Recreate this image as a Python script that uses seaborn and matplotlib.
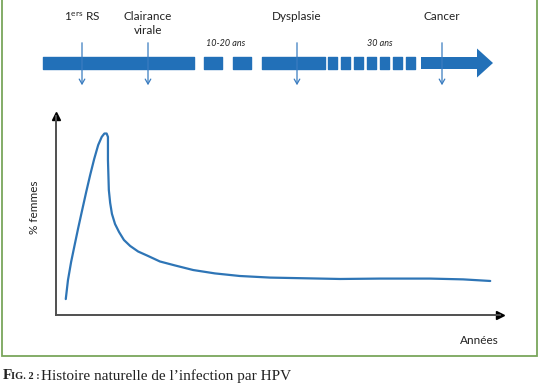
import matplotlib
matplotlib.use("Agg")
import matplotlib.pyplot as plt
import seaborn as sns
from matplotlib.patches import Rectangle

# ---------------------------------------------
# DATA
# ---------------------------------------------
# curve: years (0-100 scale) vs % femmes (0-100 scale)
years = [2.2, 2.7, 3.4, 4.2, 5.0, 5.9, 6.8, 7.7, 8.6, 9.5, 10.3, 10.9, 11.4, 11.7,
         11.7, 11.7, 11.8, 11.9, 12.2, 12.6, 13.3, 14.2, 15.3, 16.7, 18.5, 20.7,
         23.4, 26.8, 30.9, 35.8, 41.4, 48.2, 55.0, 64.0, 73.0, 84.2, 91.7, 97.8]
pct_femmes = [8.0, 17.6, 26.6, 35.2, 43.7, 52.8, 61.8, 70.4, 78.4, 85.4, 89.5, 91.2, 91.2, 89.5,
              85.4, 77.9, 70.4, 62.8, 56.3, 50.8, 45.7, 41.7, 37.7, 34.7, 31.9, 29.7,
              26.9, 24.9, 22.6, 20.9, 19.6, 18.8, 18.5, 18.1, 18.3, 18.3, 17.9, 17.1]

# timeline (pixel scale of the banner)
event_labels = ["1$^{\\mathrm{ers}}$ RS", "Clairance\nvirale", "Dysplasie", "Cancer"]
event_pos = [82, 148, 297, 442]
solid_segments = [(43, 151), (262, 63)]
medium_dashes = [(204, 18), (233, 18)]
small_dashes = [(328, 8.5), (341, 8.5), (354, 8.5), (367, 8.5), (380, 8.5), (393, 8.5), (406, 8.5)]
duration_labels = ["10-20 ans", "30 ans"]
duration_pos = [226, 380]
arrow_start, arrow_end = 421, 493

caption_small = "IG. 2 :"
caption_text = "Histoire naturelle de l\u2019infection par HPV"

# ---------------------------------------------
# STYLE
# ---------------------------------------------
sns.set_style("white")
plt.rcParams["font.family"] = ["Lato", "DejaVu Sans"]
plt.rcParams["mathtext.fontset"] = "custom"
plt.rcParams["mathtext.rm"] = "Lato"
plt.rcParams["mathtext.it"] = "Lato:italic"

BLUE = "#2270b8"
LINE_BLUE = "#2e75b6"
GREEN = "#79a65c"
AXIS_GREY = "#505050"

W, H = 538, 384
fig = plt.figure(figsize=(W / 100, H / 100), dpi=100)

# banner axes in pixel units
ax_t = fig.add_axes([0, 0, 1, 1])
ax_t.set_xlim(0, W)
ax_t.set_ylim(H, 0)
ax_t.axis("off")

# green frame
ax_t.add_patch(Rectangle((2, -5), 535, 361, fill=False, edgecolor=GREEN, lw=1.3))

# timeline bar
bar_y, bar_h = 57, 12
ax_t.broken_barh(solid_segments, (bar_y, bar_h), color=BLUE)
ax_t.broken_barh(medium_dashes, (bar_y, bar_h), color=BLUE)
ax_t.broken_barh(small_dashes, (bar_y, bar_h), color=BLUE)
ax_t.arrow(arrow_start, bar_y + bar_h / 2, arrow_end - arrow_start, 0, width=bar_h,
           head_width=29, head_length=16, length_includes_head=True, color=BLUE, lw=0)

# events
for lab, x in zip(event_labels, event_pos):
    ax_t.text(x, 10.5, lab, ha="center", va="top", fontsize=8.5, color="#222222",
              linespacing=1.4)
    ax_t.annotate("", xy=(x, 88), xytext=(x, 40),
                  arrowprops=dict(arrowstyle="->,head_length=0.35,head_width=0.2",
                                  color="#3a7cc0", lw=0.9))

for lab, x in zip(duration_labels, duration_pos):
    ax_t.text(x, 43, lab, ha="center", va="center", fontsize=6.5, style="italic",
              color="#222222")

# caption
ax_t.text(3, 369, "F", ha="left", va="top", fontsize=11, fontweight="bold",
          family="Liberation Serif", color="#222222")
ax_t.text(11, 372, caption_small, ha="left", va="top", fontsize=7.5, fontweight="bold",
          family="Liberation Serif", color="#222222")
ax_t.text(41, 369, caption_text, ha="left", va="top", fontsize=11,
          family="Liberation Serif", color="#222222")

# ---------------------------------------------
# MAIN CURVE
# ---------------------------------------------
left, right, bottom, top = 56, 500, 315, 116
ax = fig.add_axes([left / W, 1 - bottom / H, (right - left) / W, (bottom - top) / H])
ax.patch.set_alpha(0)
sns.lineplot(x=years, y=pct_femmes, sort=False, estimator=None, color=LINE_BLUE,
             lw=1.6, ax=ax)
ax.set_xlim(0, 100)
ax.set_ylim(0, 100)
ax.set_xticks([])
ax.set_yticks([])
for s in ["top", "right"]:
    ax.spines[s].set_visible(False)
for s in ["left", "bottom"]:
    ax.spines[s].set_color(AXIS_GREY)
    ax.spines[s].set_linewidth(1.4)
ax.plot(1, 0, marker=">", color="black", markersize=6, transform=ax.transAxes, clip_on=False)
ax.plot(0, 1, marker="^", color="black", markersize=6, transform=ax.transAxes, clip_on=False)

ax_t.text(34, 207, "% femmes", rotation=90, ha="center", va="center", fontsize=8.5,
          color="#222222")
ax_t.text(479, 340, "Années", ha="center", va="center", fontsize=8.5, color="#222222")

fig.savefig("out.png", dpi=100)
